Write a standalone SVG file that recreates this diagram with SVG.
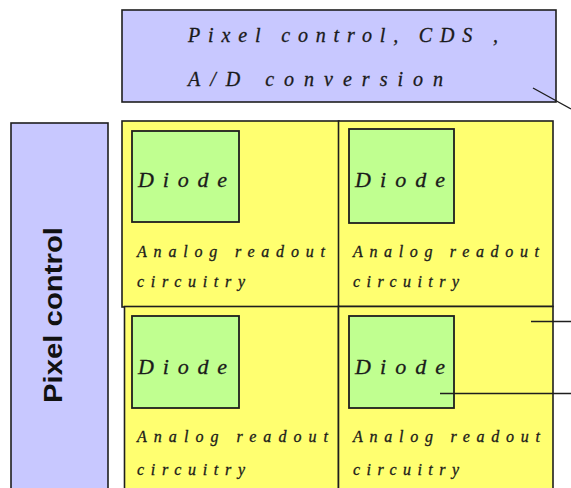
<svg xmlns="http://www.w3.org/2000/svg" width="571" height="488" viewBox="0 0 571 488">
  <style>
    .blue { fill: #c8c8ff; stroke: #1e1e1e; stroke-width: 1.6; }
    .cell { fill: #ffff70; stroke: #1e1e1e; stroke-width: 1.6; }
    .diode { fill: #c0ff90; stroke: #1e1e1e; stroke-width: 1.8; }
    .script { font-family: "Liberation Serif", "DejaVu Serif", serif; font-style: italic; fill: #1a1a1a; stroke: #1a1a1a; stroke-width: 0.3; }
    .big { font-size: 22px; }
    .small { font-size: 16px; }
    .head { font-size: 20px; }
    .wire { stroke: #1e1e1e; stroke-width: 1.4; fill: none; }
  </style>

  <rect width="571" height="488" fill="#ffffff"/>

  <!-- column control block on the left -->
  <g id="pixel-control">
    <rect class="blue" x="11" y="123" width="97" height="380"/>
    <text x="0" y="0" transform="translate(62 315) rotate(-90)" text-anchor="middle"
          font-family="'Liberation Sans', Arial, sans-serif" font-weight="bold" font-size="25"
          textLength="176" lengthAdjust="spacingAndGlyphs" fill="#111">Pixel control</text>
  </g>

  <!-- row control / conversion block on top -->
  <g id="readout-block">
    <rect class="blue" x="122" y="10" width="434" height="92"/>
    <text class="script head" x="188" y="42" textLength="310" lengthAdjust="spacing">Pixel control, CDS ,</text>
    <text class="script head" x="188" y="86" textLength="255" lengthAdjust="spacing">A/D conversion</text>
  </g>

  <!-- pixel (0,0) -->
  <g id="pixel-tl">
    <rect class="cell" x="122" y="121" width="217" height="186"/>
    <rect class="diode" x="132" y="131" width="107" height="91"/>
    <text class="script big" x="138" y="187" textLength="89" lengthAdjust="spacing">Diode</text>
    <text class="script small" x="137" y="257" textLength="188" lengthAdjust="spacing">Analog readout</text>
    <text class="script small" x="137" y="287" textLength="108" lengthAdjust="spacing">circuitry</text>
  </g>

  <!-- pixel (0,1) -->
  <g id="pixel-tr">
    <rect class="cell" x="338.5" y="121" width="214.5" height="185.5"/>
    <rect class="diode" x="349" y="129" width="105" height="94"/>
    <text class="script big" x="355" y="187" textLength="90" lengthAdjust="spacing">Diode</text>
    <text class="script small" x="353" y="257" textLength="186" lengthAdjust="spacing">Analog readout</text>
    <text class="script small" x="353" y="287" textLength="106" lengthAdjust="spacing">circuitry</text>
  </g>

  <!-- pixel (1,0) -->
  <g id="pixel-bl">
    <rect class="cell" x="124.5" y="306.5" width="214" height="200"/>
    <rect class="diode" x="132" y="316" width="107" height="92"/>
    <text class="script big" x="138" y="374" textLength="89" lengthAdjust="spacing">Diode</text>
    <text class="script small" x="137" y="442" textLength="191" lengthAdjust="spacing">Analog readout</text>
    <text class="script small" x="137" y="475" textLength="108" lengthAdjust="spacing">circuitry</text>
  </g>

  <!-- pixel (1,1) -->
  <g id="pixel-br">
    <rect class="cell" x="338.5" y="306.5" width="214.5" height="200"/>
    <rect class="diode" x="349" y="316" width="105" height="92"/>
    <text class="script big" x="355" y="374" textLength="90" lengthAdjust="spacing">Diode</text>
    <text class="script small" x="353" y="442" textLength="187" lengthAdjust="spacing">Analog readout</text>
    <text class="script small" x="353" y="475" textLength="106" lengthAdjust="spacing">circuitry</text>
  </g>

  <!-- leader lines -->
  <g id="connectors">
    <line class="wire" x1="533" y1="88" x2="571" y2="109"/>
    <line class="wire" x1="531" y1="321.5" x2="571" y2="321.5"/>
    <line class="wire" x1="440" y1="393.5" x2="571" y2="393.5"/>
  </g>
</svg>
